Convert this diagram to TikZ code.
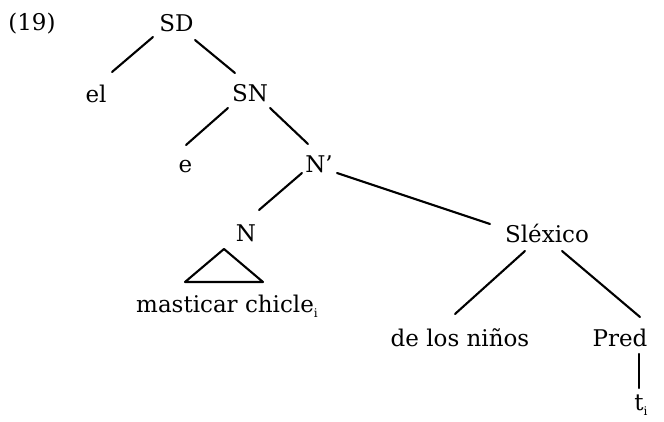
\documentclass[tikz,border=0pt]{standalone}
\usepackage{fontspec}
\setmainfont{DejaVu Serif}
\usetikzlibrary{calc}
\tikzset{
  lbl/.style={anchor=base, inner sep=0pt, font=\fontsize{23}{26}\selectfont},
  branch/.style={line width=2.1pt, line cap=round},
}
\newcommand{\lowsub}[1]{\raisebox{-0.45ex}{\fontsize{12}{13}\selectfont #1}}
\begin{document}
\begin{tikzpicture}[x=1pt,y=-1pt]
\useasboundingbox (0,0) rectangle (664,422);
% labels
\node[lbl] (ex) at (32,31) {(19)};
\node[lbl] (SD) at (176.5,32) {SD};
\node[lbl] (el) at (96,103) {el};
\node[lbl] (SN) at (250,102) {SN};
\node[lbl] (e) at (185.5,173) {e};
\node[lbl] (Np) at (319,173) {N'};
\node[lbl] (N) at (246,241) {N};
\node[lbl] (mc) at (227,312) {masticar chicle\lowsub{i}};
\node[lbl] (Slex) at (547,243) {Sléxico};
\node[lbl] (dln) at (460,346) {de los niños};
\node[lbl] (Pred) at (620,346) {Pred};
\node[lbl] (t) at (641,410) {t\lowsub{i}};
% branches
\draw[branch] ($(SD.base)+(-23.5,5)$) -- ($(el.base)+(16,-31)$);
\draw[branch] ($(SD.base)+(18.5,8)$) -- ($(SN.base)+(-15,-29)$);
\draw[branch] ($(SN.base)+(-22,6)$) -- ($(e.base)+(0.5,-28)$);
\draw[branch] ($(SN.base)+(20,6)$) -- ($(Np.base)+(-11,-29)$);
\draw[branch] ($(Np.base)+(-17,0)$) -- ($(N.base)+(13,-31)$);
\draw[branch] ($(Np.base)+(18,0)$) -- ($(Slex.base)+(-57,-19)$);
\draw[branch] ($(Slex.base)+(-22,8)$) -- ($(dln.base)+(-5,-32)$);
\draw[branch] ($(Slex.base)+(15,8)$) -- ($(Pred.base)+(20,-29)$);
\draw[branch] ($(Pred.base)+(19,8)$) -- ($(t.base)+(-2,-22)$);
% triangle
\draw[branch, line join=round] ($(N.base)+(-22,8)$) -- ($(mc.base)+(-42,-30)$) -- ($(mc.base)+(36,-30)$) -- cycle;
\end{tikzpicture}
\end{document}
